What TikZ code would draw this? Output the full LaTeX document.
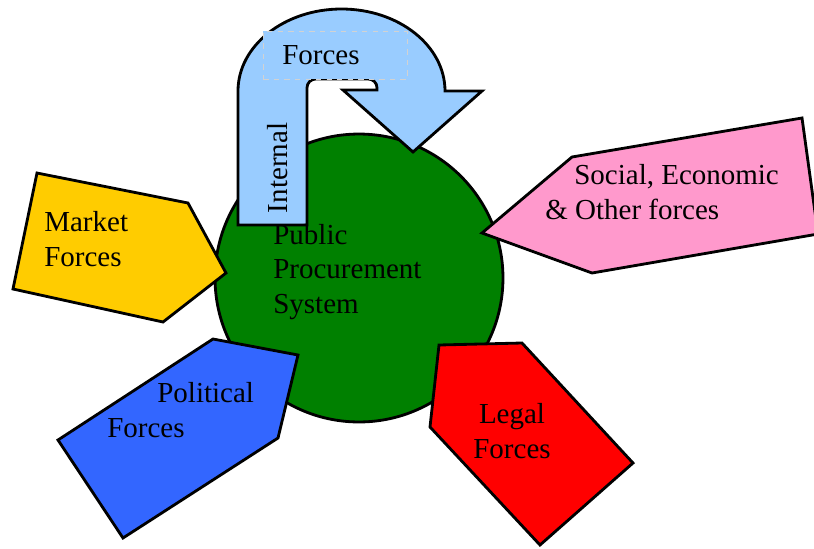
\documentclass[tikz,border=0pt]{standalone}
\usepackage{fontspec}
\setmainfont{Liberation Serif}
\definecolor{systemgreen}{HTML}{008000}
\definecolor{internalblue}{HTML}{99CCFF}
\definecolor{marketyellow}{HTML}{FFCC00}
\definecolor{politicalblue}{HTML}{3366FF}
\definecolor{legalred}{HTML}{FF0000}
\definecolor{socialpink}{HTML}{FF99CC}

\begin{document}
\begin{tikzpicture}[x=0.02cm, y=-0.02cm,
    force shape/.style={draw=black, line width=1.6pt, line join=miter},
    force text/.style={inner sep=0pt, align=left, font=\fontsize{16.5}{19.5}\selectfont}]
    \useasboundingbox (0,0) rectangle (814,548);

    % the system in the middle
    \node [circle, draw, line width=1.6pt, fill=systemgreen, minimum size=5.76cm, inner sep=0pt] (system) at (359,278) {};

    % internal forces, bent back onto the system
    \filldraw [force shape, fill=internalblue] (238,225) -- (238,91)
        arc [start angle=180, end angle=360, x radius=103.5, y radius=82]
        -- (482,91) -- (413,152) -- (343,90) -- (377,90)
        [rounded corners=5pt] -- (377,79) -- (307,79) -- (307,150)
        [sharp corners] -- (307,225) -- cycle;
    \node [force text, anchor=north west, fill=internalblue, draw=gray!35, dashed, thin,
        text width=2.12cm, minimum height=0.96cm, inner xsep=0.38cm] (forces) at (263,31) {Forces};
    \node [force text, rotate=90] (internal) at (278,168) {Internal};
    \node [force text, anchor=west] (system label) at (273,272) {Public\\Procurement\\System};

    % outside forces
    \filldraw [force shape, fill=marketyellow] (37,173) -- (188,203) -- (226,273) -- (163,322) -- (13,289) -- cycle;
    \node [force text, anchor=west] (market) at (44,239) {Market\\Forces};

    \filldraw [force shape, fill=politicalblue] (213,339) -- (298,355) -- (278,438) -- (123,538) -- (58,440) -- cycle;
    \node [force text, anchor=west] (political) at (107,410) {\hspace*{1cm}Political\\Forces};

    \filldraw [force shape, fill=legalred] (439,345) -- (522,343) -- (633,463) -- (540,545) -- (430,427) -- cycle;
    \node [force text, align=center] (legal) at (512,431) {Legal\\Forces};

    \filldraw [force shape, fill=socialpink] (802,118) -- (818,234) -- (592,273) -- (482,233) -- (572,157) -- cycle;
    \node [force text, anchor=west] (social) at (545,192) {\hspace*{0.58cm}Social, Economic\\\& Other forces};
\end{tikzpicture}
\end{document}
